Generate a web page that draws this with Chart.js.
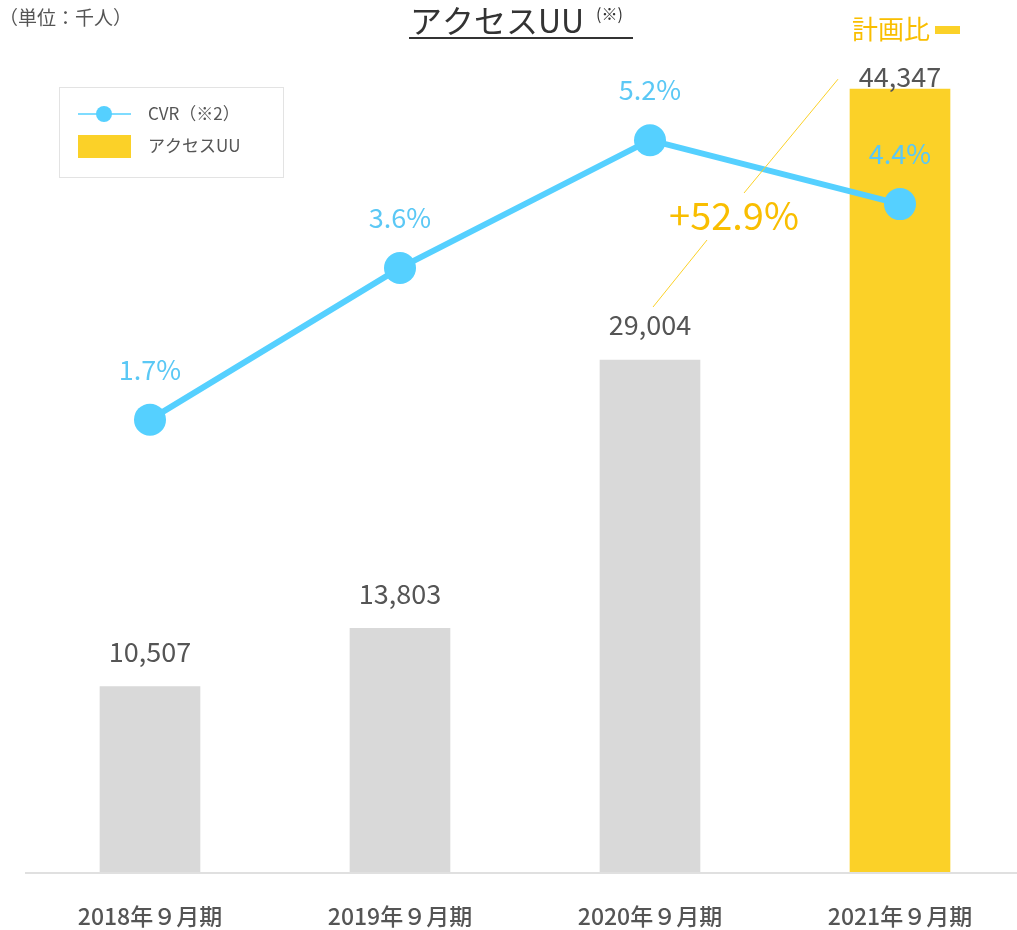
<!DOCTYPE html>
<html>
<head>
<meta charset="utf-8">
<script src="https://cdn.jsdelivr.net/npm/chart.js@4"></script>
<style>
  html, body { margin: 0; padding: 0; background: #fff; overflow: hidden; }
  #wrap { width: 1025px; height: 930px; }
  #uuChart { width: 1025px; height: 930px; }
</style>
</head>
<body>
<div id="wrap"><canvas id="uuChart" width="1025" height="930"></canvas></div>
<script>
// data
const periods = ["2018年９月期", "2019年９月期", "2020年９月期", "2021年９月期"];
const accessUU = [10507, 13803, 29004, 44347];
const cvr = [1.7, 3.6, 5.2, 4.4];
const barColors = ["#d9d9d9", "#d9d9d9", "#d9d9d9", "#fbd128"];
const planRatio = "+52.9%";

const FONT = "'Noto Sans CJK JP', 'Noto Sans', sans-serif";

// draws the labels, title, legend and axis by hand
const decorations = {
    id: "decorations",
    afterDatasetsDraw(chart) {
        const ctx = chart.ctx;
        const area = chart.chartArea;
        const barMeta = chart.getDatasetMeta(1);
        const lineMeta = chart.getDatasetMeta(0);
        ctx.save();

        // baseline
        ctx.strokeStyle = "#e0e0e0";
        ctx.lineWidth = 2;
        ctx.beginPath();
        ctx.moveTo(area.left, area.bottom + 1);
        ctx.lineTo(1017, area.bottom + 1);
        ctx.stroke();

        // category labels
        ctx.fillStyle = "#555";
        ctx.font = "500 23px " + FONT;
        ctx.textAlign = "center";
        ctx.textBaseline = "middle";
        barMeta.data.forEach((bar, i) => {
            ctx.fillText(periods[i], bar.x, 916);
        });

        // bar values
        ctx.font = "27px " + FONT;
        ctx.fillStyle = "#555";
        barMeta.data.forEach((bar, i) => {
            const y = Math.max(bar.y - 35, 77);
            ctx.fillText(accessUU[i].toLocaleString("en-US"), bar.x, y);
        });

        // CVR values
        ctx.fillStyle = "#5bc8f5";
        lineMeta.data.forEach((pt, i) => {
            ctx.fillText(cvr[i].toFixed(1) + "%", pt.x, pt.y - 50);
        });

        // plan ratio
        const b2 = barMeta.data[2], b3 = barMeta.data[3];
        ctx.strokeStyle = "#fbd128";
        ctx.lineWidth = 1;
        ctx.beginPath();
        ctx.moveTo(b2.x + 3, b2.y - 53);
        ctx.lineTo(b2.x + 57, b2.y - 120);
        ctx.moveTo(b2.x + 94, b2.y - 167);
        ctx.lineTo(b3.x - 62, b3.y - 10);
        ctx.stroke();
        ctx.fillStyle = "#f9be00";
        ctx.font = "38px " + FONT;
        ctx.fillText(planRatio, 734, 216);

        ctx.font = "26px " + FONT;
        ctx.textAlign = "left";
        ctx.fillText("計画比", 852, 29);
        ctx.fillStyle = "#fbd128";
        ctx.fillRect(935, 26, 25, 8);

        // unit
        ctx.fillStyle = "#555";
        ctx.font = "19px " + FONT;
        ctx.fillText("（単位：千人）", -1, 18);

        // title
        ctx.fillStyle = "#333";
        ctx.font = "32px " + FONT;
        ctx.fillText("アクセスUU", 410, 21);
        ctx.font = "16px " + FONT;
        ctx.fillText("(※)", 596, 14);
        ctx.strokeStyle = "#333";
        ctx.lineWidth = 2;
        ctx.beginPath();
        ctx.moveTo(409, 38);
        ctx.lineTo(633, 38);
        ctx.stroke();

        // legend
        ctx.strokeStyle = "#e3e3e3";
        ctx.lineWidth = 1;
        ctx.strokeRect(59.5, 87.5, 224, 90);
        ctx.strokeStyle = "#55d0ff";
        ctx.lineWidth = 1.5;
        ctx.beginPath();
        ctx.moveTo(78, 114);
        ctx.lineTo(131, 114);
        ctx.stroke();
        ctx.fillStyle = "#55d0ff";
        ctx.beginPath();
        ctx.arc(104, 114, 8, 0, Math.PI * 2);
        ctx.fill();
        ctx.fillStyle = "#fbd128";
        ctx.fillRect(78, 135, 53, 23);
        ctx.fillStyle = "#555";
        ctx.font = "17px " + FONT;
        ctx.fillText(chart.data.datasets[0].label, 148, 114);
        ctx.fillText(chart.data.datasets[1].label, 148, 146);

        ctx.restore();
    }
};

const ctx = document.getElementById("uuChart").getContext("2d");
const uuChart = new Chart(ctx, {
    data: {
        labels: periods,
        datasets: [
            {
                type: "line",
                label: "CVR（※2）",
                data: cvr,
                yAxisID: "y2",
                borderColor: "#55d0ff",
                backgroundColor: "#55d0ff",
                borderWidth: 6,
                pointRadius: 16,
                pointHoverRadius: 16,
                pointBorderWidth: 0,
                tension: 0,
                order: 0
            },
            {
                type: "bar",
                label: "アクセスUU",
                data: accessUU,
                yAxisID: "y",
                backgroundColor: barColors,
                barThickness: 100,
                order: 1
            }
        ]
    },
    options: {
        responsive: false,
        animation: false,
        layout: { autoPadding: false, padding: { top: 30, bottom: 58, left: 25, right: 0 } },
        plugins: {
            legend: { display: false },
            tooltip: { enabled: false }
        },
        scales: {
            x: {
                display: false,
                offset: true,
                grid: { display: false }
            },
            y: {
                display: false,
                min: 0,
                max: 47700
            },
            y2: {
                display: false,
                position: "right",
                min: -3.965,
                max: 6.58
            }
        }
    },
    plugins: [decorations]
});
</script>
</body>
</html>
